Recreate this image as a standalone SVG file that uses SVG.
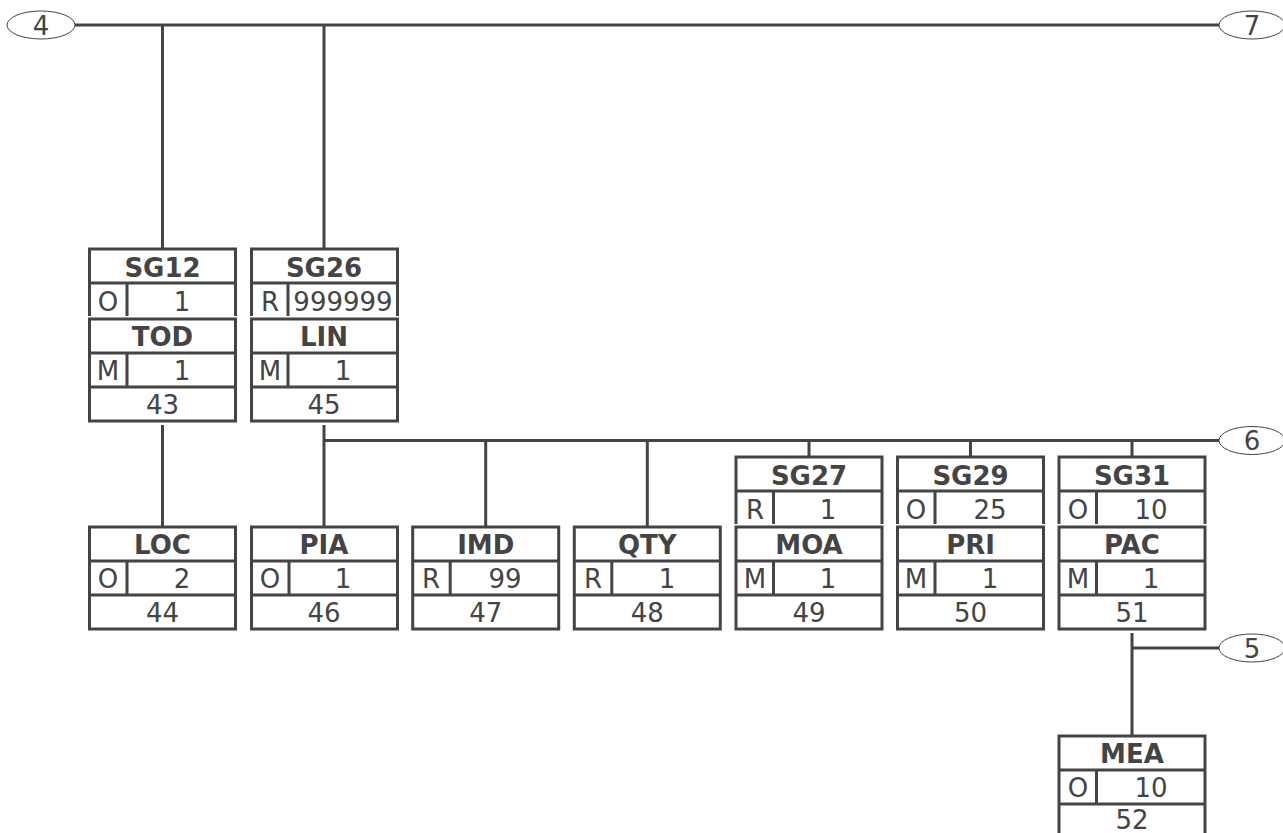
<svg xmlns="http://www.w3.org/2000/svg" width="1283" height="833" viewBox="0 0 1283 833">
<style>
text{font-family:"DejaVu Sans",Verdana,sans-serif;fill:#444;font-size:26px;text-anchor:middle}
.b{font-weight:bold}
.box{fill:none;stroke:#444;stroke-width:3}
.ln{fill:none;stroke:#444;stroke-width:3}
.ell{fill:#fff;stroke:#444;stroke-width:1}
</style>
<rect width="1283" height="833" fill="#fff"/>
<g id="connectors">
<path class="ln" d="M75 25H1219M162.5 25V249M324 25V249"/>
<path class="ln" d="M162.5 425V527M324 425V527M324 440.5H1219M485.7 440.5V527M647.3 440.5V527M809 440.5V457M970.5 440.5V457M1132 440.5V457"/>
<path class="ln" d="M1132 633V736M1132 648H1219"/>
</g>
<g id="c4"><ellipse class="ell" cx="41" cy="25" rx="34" ry="14"/><text x="41" y="34.5">4</text></g>
<g id="c7"><ellipse class="ell" cx="1252" cy="25" rx="33" ry="14"/><text x="1252" y="34.5">7</text></g>
<g id="c6"><ellipse class="ell" cx="1252" cy="440.5" rx="33" ry="14"/><text x="1252" y="450">6</text></g>
<g id="c5"><ellipse class="ell" cx="1252" cy="648" rx="33" ry="14"/><text x="1252" y="657.5">5</text></g>

<g id="SG12">
<path class="box" d="M89.5 316V249H235.5V316M89.5 283H235.5M127 283V316"/>
<text class="b" x="162.5" y="276.5">SG12</text><text x="108" y="311">O</text><text x="182" y="311">1</text>
</g>
<g id="TOD">
<rect class="box" x="89.5" y="319" width="146" height="102"/>
<path class="box" d="M89.5 353H235.5M89.5 387H235.5M127 353V387"/>
<text class="b" x="162.5" y="345.5">TOD</text><text x="108" y="379.5">M</text><text x="182" y="379.5">1</text><text x="162.5" y="413.5">43</text>
</g>
<g id="SG26">
<path class="box" d="M251.5 316V249H397.5V316M251.5 283H397.5M288 283V316"/>
<text class="b" x="324" y="276.5">SG26</text><text x="270" y="311">R</text><text x="343" y="311">999999</text>
</g>
<g id="LIN">
<rect class="box" x="251.5" y="319" width="146" height="102"/>
<path class="box" d="M251.5 353H397.5M251.5 387H397.5M288 353V387"/>
<text class="b" x="324" y="345.5">LIN</text><text x="270" y="379.5">M</text><text x="343" y="379.5">1</text><text x="324" y="413.5">45</text>
</g>

<g id="LOC">
<rect class="box" x="89.5" y="527" width="146" height="102"/>
<path class="box" d="M89.5 561H235.5M89.5 595H235.5M127 561V595"/>
<text class="b" x="162.5" y="553.5">LOC</text><text x="108" y="587.5">O</text><text x="182" y="587.5">2</text><text x="162.5" y="621.5">44</text>
</g>
<g id="PIA">
<rect class="box" x="251.5" y="527" width="146" height="102"/>
<path class="box" d="M251.5 561H397.5M251.5 595H397.5M289 561V595"/>
<text class="b" x="324" y="553.5">PIA</text><text x="270" y="587.5">O</text><text x="343" y="587.5">1</text><text x="324" y="621.5">46</text>
</g>
<g id="IMD">
<rect class="box" x="412.7" y="527" width="146" height="102"/>
<path class="box" d="M412.7 561H558.7M412.7 595H558.7M450.2 561V595"/>
<text class="b" x="485.7" y="553.5">IMD</text><text x="431" y="587.5">R</text><text x="505" y="587.5">99</text><text x="485.7" y="621.5">47</text>
</g>
<g id="QTY">
<rect class="box" x="574.3" y="527" width="146" height="102"/>
<path class="box" d="M574.3 561H720.3M574.3 595H720.3M611.8 561V595"/>
<text class="b" x="647.3" y="553.5">QTY</text><text x="593" y="587.5">R</text><text x="667" y="587.5">1</text><text x="647.3" y="621.5">48</text>
</g>
<g id="SG27">
<path class="box" d="M736 524V457H882V524M736 491H882M773.5 491V524"/>
<text class="b" x="809" y="484.5">SG27</text><text x="755" y="519">R</text><text x="828" y="519">1</text>
</g>
<g id="MOA">
<rect class="box" x="736" y="527" width="146" height="102"/>
<path class="box" d="M736 561H882M736 595H882M773.5 561V595"/>
<text class="b" x="809" y="553.5">MOA</text><text x="755" y="587.5">M</text><text x="828" y="587.5">1</text><text x="809" y="621.5">49</text>
</g>
<g id="SG29">
<path class="box" d="M897.5 524V457H1043.5V524M897.5 491H1043.5M935 491V524"/>
<text class="b" x="970.5" y="484.5">SG29</text><text x="916" y="519">O</text><text x="990" y="519">25</text>
</g>
<g id="PRI">
<rect class="box" x="897.5" y="527" width="146" height="102"/>
<path class="box" d="M897.5 561H1043.5M897.5 595H1043.5M935 561V595"/>
<text class="b" x="970.5" y="553.5">PRI</text><text x="916" y="587.5">M</text><text x="990" y="587.5">1</text><text x="970.5" y="621.5">50</text>
</g>
<g id="SG31">
<path class="box" d="M1059 524V457H1205V524M1059 491H1205M1096.5 491V524"/>
<text class="b" x="1132" y="484.5">SG31</text><text x="1078" y="519">O</text><text x="1151" y="519">10</text>
</g>
<g id="PAC">
<rect class="box" x="1059" y="527" width="146" height="102"/>
<path class="box" d="M1059 561H1205M1059 595H1205M1096.5 561V595"/>
<text class="b" x="1132" y="553.5">PAC</text><text x="1078" y="587.5">M</text><text x="1151" y="587.5">1</text><text x="1132" y="621.5">51</text>
</g>
<g id="MEA">
<rect class="box" x="1059" y="736" width="146" height="102"/>
<path class="box" d="M1059 770H1205M1059 804H1205M1096.5 770V804"/>
<text class="b" x="1132" y="762.5">MEA</text><text x="1078" y="796.5">O</text><text x="1151" y="796.5">10</text><text x="1132" y="829">52</text>
</g>
</svg>
